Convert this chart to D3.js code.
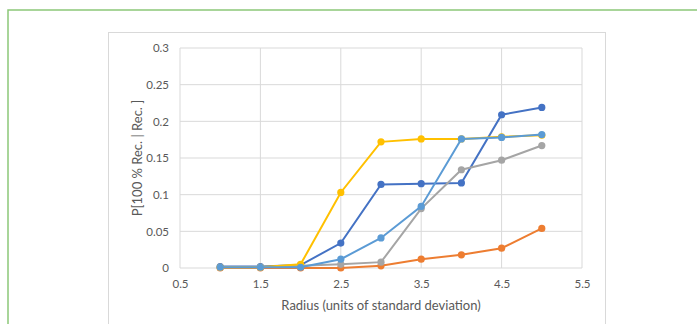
<!DOCTYPE html>
<html lang="en">
<head>
  <meta charset="UTF-8">
  <title>P[100 % Rec. | Rec.] vs Radius</title>
  <style>
  body {
    margin: 0;
    background: #fff;
    font-family: Lato, "Open Sans", sans-serif;
  }
  .tick text { fill: #595959; font-size: 11.5px; }
  .title { fill: #595959; font-size: 13px; }
  </style>
</head>
<body>
  <svg width="697" height="324"></svg>
  <script src="https://cdnjs.cloudflare.com/ajax/libs/d3/7.8.5/d3.min.js"></script>
  <script>
  var radius = [1, 1.5, 2, 2.5, 3, 3.5, 4, 4.5, 5];
  var seriesBlue = [0.002, 0.002, 0.004, 0.034, 0.114, 0.115, 0.116, 0.209, 0.219];
  var seriesOrange = [0, 0, 0, 0, 0.003, 0.012, 0.018, 0.027, 0.054];
  var seriesGray = [0.001, 0.001, 0.003, 0.005, 0.008, 0.081, 0.134, 0.147, 0.167];
  var seriesYellow = [0.001, 0.001, 0.005, 0.103, 0.172, 0.176, 0.176, 0.179, 0.181];
  var seriesLightBlue = [0.001, 0.001, 0.001, 0.012, 0.041, 0.084, 0.176, 0.178, 0.182];
  var xTicks = [0.5, 1.5, 2.5, 3.5, 4.5, 5.5];
  var yTicks = [0, 0.05, 0.1, 0.15, 0.2, 0.25, 0.3];

  var series = [
    { values: seriesBlue, color: "#4472c4" },
    { values: seriesOrange, color: "#ed7d31" },
    { values: seriesGray, color: "#a5a5a5" },
    { values: seriesYellow, color: "#ffc000" },
    { values: seriesLightBlue, color: "#5b9bd5" }
  ];

  var svg = d3.select("svg");

  // outer green frame and chart border
  svg.append("rect").attr("x", 8).attr("y", 10).attr("width", 720).attr("height", 340)
    .attr("fill", "none").attr("stroke", "#8cc878").attr("stroke-width", 1.5);
  svg.append("rect").attr("x", 108.5).attr("y", 32.5).attr("width", 497).attr("height", 320)
    .attr("fill", "#fff").attr("stroke", "#d9d9d9");

  var x = d3.scaleLinear().domain([0.5, 5.5]).range([180, 582]);
  var y = d3.scaleLinear().domain([0, 0.3]).range([268, 48]);

  // gridlines
  svg.append("g").selectAll("line").data(xTicks).enter().append("line")
    .attr("x1", function(d) { return x(d); }).attr("x2", function(d) { return x(d); })
    .attr("y1", y(0)).attr("y2", y(0.3))
    .attr("stroke", "#d9d9d9");
  svg.append("g").selectAll("line").data(yTicks).enter().append("line")
    .attr("x1", x(0.5)).attr("x2", x(5.5))
    .attr("y1", function(d) { return y(d); }).attr("y2", function(d) { return y(d); })
    .attr("stroke", "#d9d9d9");

  // axes (labels only)
  var xAxis = svg.append("g").attr("transform", "translate(0," + y(0) + ")")
    .call(d3.axisBottom(x).tickValues(xTicks).tickSize(0).tickPadding(12).tickFormat(d3.format("")));
  var yAxis = svg.append("g").attr("transform", "translate(" + x(0.5) + ",0)")
    .call(d3.axisLeft(y).tickValues(yTicks).tickSize(0).tickPadding(11).tickFormat(d3.format("")));
  xAxis.select(".domain").remove();
  yAxis.select(".domain").remove();
  xAxis.attr("font-family", null).attr("font-size", null);
  yAxis.attr("font-family", null).attr("font-size", null);

  var line = d3.line()
    .x(function(d, i) { return x(radius[i]); })
    .y(function(d) { return y(d); });

  series.forEach(function(s) {
    var g = svg.append("g");
    g.append("path").datum(s.values)
      .attr("d", line)
      .attr("fill", "none")
      .attr("stroke", s.color)
      .attr("stroke-width", 2);
    g.selectAll("circle").data(s.values).enter().append("circle")
      .attr("cx", function(d, i) { return x(radius[i]); })
      .attr("cy", function(d) { return y(d); })
      .attr("r", 3.6)
      .attr("fill", s.color);
  });

  svg.append("text").attr("class", "title")
    .attr("x", 381).attr("y", 310).attr("text-anchor", "middle")
    .text("Radius (units of standard deviation)");
  svg.append("text").attr("class", "title")
    .attr("transform", "translate(142,158) rotate(-90)")
    .attr("text-anchor", "middle")
    .text("P[100 % Rec. | Rec. ]");
  </script>
</body>
</html>
